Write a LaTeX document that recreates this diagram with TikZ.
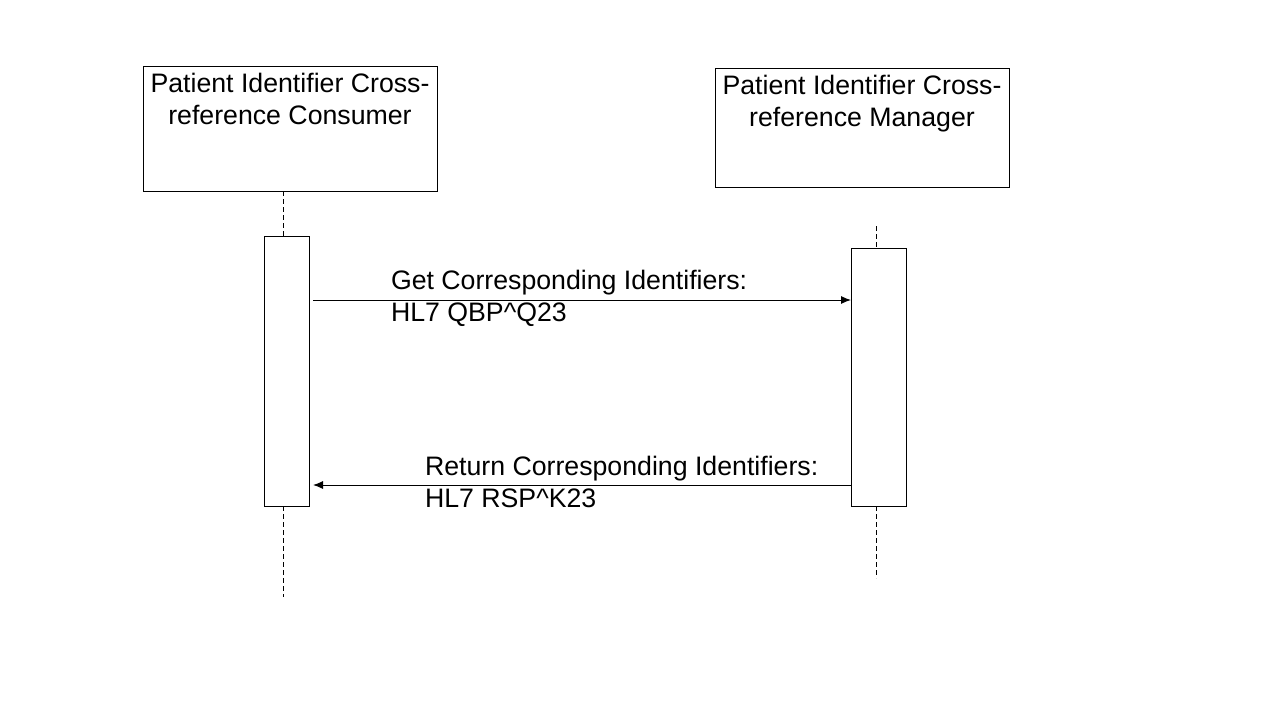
\documentclass[tikz,border=0pt]{standalone}
\usepackage{fontspec}
\setmainfont{Liberation Sans}
\usetikzlibrary{arrows.meta}
\begin{document}
\begin{tikzpicture}[x=1pt,y=-1pt,
  every node/.style={inner sep=0pt, outer sep=0pt},
  actorbox/.style={draw, line width=1pt, rectangle},
  actbar/.style={draw, line width=1pt, rectangle},
  lifeline/.style={line width=0.8pt, dash pattern=on 5pt off 3pt},
  msg/.style={line width=1pt, -{Latex[length=10pt,width=8pt]}},
  lbl/.style={font=\fontsize{26.7}{32}\selectfont, align=left, anchor=base west},
  ttl/.style={font=\fontsize{26.7}{32}\selectfont, align=center, anchor=base}
]
\useasboundingbox[fill=white] (0,0) rectangle (1280,720);
% actor boxes
\node[actorbox, minimum width=294pt, minimum height=125pt] (c) at (290,128.5) {};
\node[actorbox, minimum width=294pt, minimum height=119pt] (m) at (862,127.5) {};
\node[ttl] (ct) at (290,124) {Patient Identifier Cross-\\reference Consumer};
\node[ttl] (mt) at (862,126) {Patient Identifier Cross-\\reference Manager};
% activation bars
\node[actbar, minimum width=45pt, minimum height=270pt] (a1) at (286.5,371) {};
\node[actbar, minimum width=55pt, minimum height=258pt] (a2) at (878.5,377) {};
% lifelines
\coordinate (l1end) at (283,597);
\coordinate (l2top) at (876,226);
\coordinate (l2end) at (876,578);
\draw[lifeline] (c.south -| 283,0) -- (a1.north -| 283,0);
\draw[lifeline] (a1.south -| 283,0) -- (l1end);
\draw[lifeline] (l2top) -- (a2.north -| 876,0);
\draw[lifeline] (a2.south -| 876,0) -- (l2end);
% messages
\draw[msg] ([xshift=4pt]a1.east |- 0,300) -- (a2.west |- 0,300);
\draw[msg] (a2.west |- 0,485) -- ([xshift=4pt]a1.east |- 0,485);
\node[lbl] (q) at (391,321) {Get Corresponding Identifiers:\\HL7 QBP\textasciicircum Q23};
\node[lbl] (r) at (425,507) {Return Corresponding Identifiers:\\HL7 RSP\textasciicircum K23};
\end{tikzpicture}
\end{document}
